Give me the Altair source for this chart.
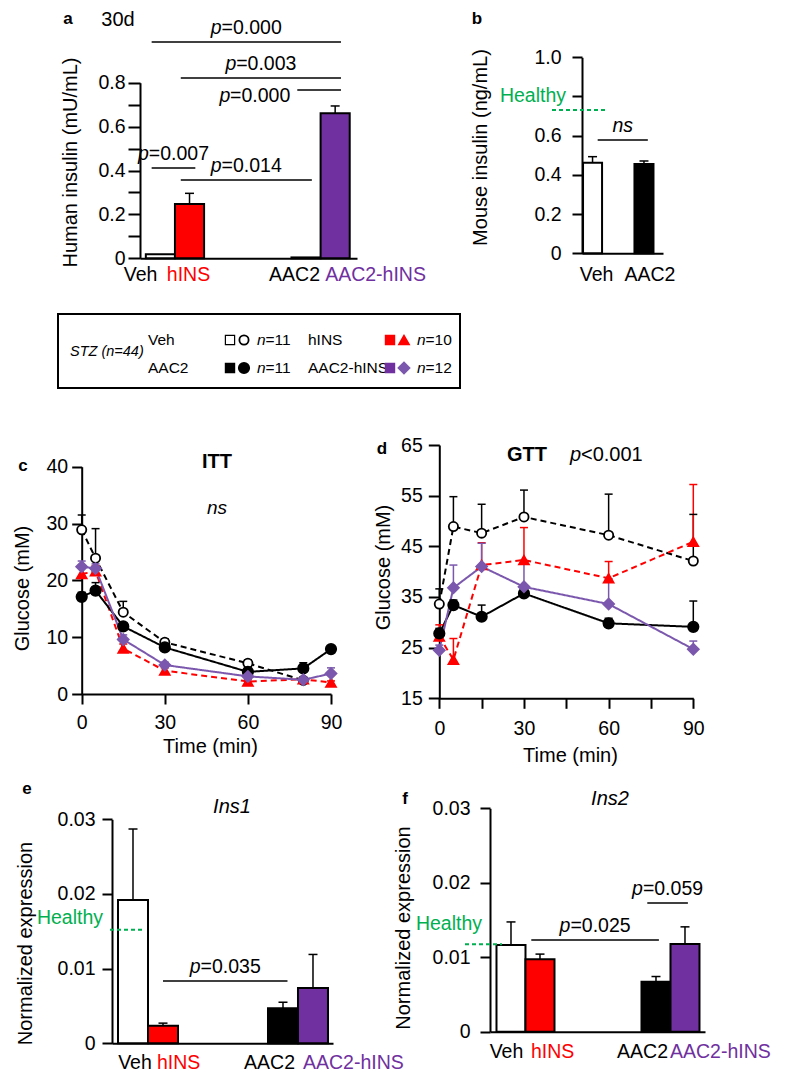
import altair as alt
import pandas as pd

M = 8
W, H = 772, 1071
FONT = "Liberation Sans"
FS = 19.5
GREEN = "#00b050"
RED = "#ff0000"
PURPLE = "#7030a0"
PURPLE_L = "#7b58ad"

GROUPS = ["Veh", "hINS", "AAC2", "AAC2-hINS"]
BAR_FILL = ["#ffffff", RED, "#000000", PURPLE]
LABEL_COLOR = ["#000000", RED, "#000000", PURPLE]
LINE_COLOR = ["#000000", RED, "#000000", PURPLE_L]
POINT_FILL = ["#ffffff", RED, "#000000", PURPLE_L]
POINT_SHAPE = ["circle", "triangle-up", "circle", "diamond"]
POINT_SIZE = [85, 120, 110, 90]
LINE_DASH = [[6, 4], [6, 4], [1, 0], [1, 0]]
LINE_WIDTH = [2, 2, 2, 1.6]

# ---- panel a : human insulin ----
A_VALUES = [0.018, 0.247, 0.004, 0.661]
A_SEM = [0.0, 0.049, 0.0, 0.033]
A_SIG_LABEL = ["p=0.000", "p=0.003", "p=0.000", "p=0.007", "p=0.014"]
A_SIG_FROM = ["Veh", "hINS", "AAC2", "Veh", "hINS"]
A_SIG_TO = ["AAC2-hINS", "AAC2-hINS", "AAC2-hINS", "hINS", "AAC2"]
A_SIG_LEVEL = [0.985, 0.821, 0.767, 0.411, 0.357]
A_Y_TICKS = [0, 0.1, 0.2, 0.3, 0.4, 0.5, 0.6, 0.7, 0.8]

# ---- panel b : mouse insulin ----
B_GROUPS = ["Veh", "AAC2"]
B_VALUES = [0.462, 0.456]
B_SEM = [0.031, 0.015]
B_HEALTHY = 0.731
B_SIG_LABEL = ["ns"]
B_SIG_FROM = ["Veh"]
B_SIG_TO = ["AAC2"]
B_SIG_LEVEL = [0.578]
B_Y_TICKS = [0, 0.2, 0.4, 0.6, 0.8, 1.0]

# ---- legend ----
LEG_N = [11, 10, 11, 12]

# ---- panel c : ITT ----
ITT_TIME = [0, 5, 15, 30, 60, 80, 90]
ITT_VEH = [28.9, 23.9, 14.4, 9.1, 5.4, 2.4, None]
ITT_VEH_SEM = [2.6, 5.2, 1.9, 0.6, 0.6, 0.5, None]
ITT_HINS = [21.1, 21.6, 8.0, 4.1, 2.2, 2.6, 2.0]
ITT_HINS_SEM = [1.5, 1.0, 0.8, 0.5, 0.3, 0.3, 0.3]
ITT_AAC2 = [17.1, 18.2, 11.9, 8.2, 3.9, 4.5, 7.9]
ITT_AAC2_SEM = [0.8, 1.4, 0.6, 0.5, 0.4, 1.0, 0.5]
ITT_AH = [22.4, 22.1, 9.6, 5.1, 3.1, 2.5, 3.6]
ITT_AH_SEM = [1.0, 0.8, 0.8, 0.5, 0.4, 0.3, 1.0]

# ---- panel d : GTT ----
GTT_TIME = [0, 5, 15, 30, 60, 90]
GTT_VEH = [33.6, 48.9, 47.6, 50.8, 47.2, 42.1]
GTT_VEH_SEM = [3.0, 5.9, 5.7, 5.3, 8.1, 9.2]
GTT_HINS = [27.2, 22.6, 41.3, 42.3, 38.7, 45.9]
GTT_HINS_SEM = [2.3, 4.2, 4.4, 6.4, 3.3, 11.3]
GTT_AAC2 = [27.8, 33.4, 31.1, 35.7, 29.8, 29.1]
GTT_AAC2_SEM = [1.0, 1.0, 2.3, 1.0, 1.0, 5.1]
GTT_AH = [24.5, 36.8, 41.0, 37.0, 33.6, 24.7]
GTT_AH_SEM = [1.0, 4.5, 4.6, 5.0, 5.0, 1.6]

# ---- panel e : Ins1 ----
E_VALUES = [0.0192, 0.00236, 0.0047, 0.0074]
E_SEM = [0.0095, 0.00034, 0.0008, 0.0045]
E_HEALTHY = 0.0152
E_SIG_LABEL = ["p=0.035"]
E_SIG_FROM = ["hINS"]
E_SIG_TO = ["AAC2"]
E_SIG_LEVEL = [0.00835]

# ---- panel f : Ins2 ----
F_VALUES = [0.01164, 0.00972, 0.00671, 0.01178]
F_SEM = [0.0031, 0.0007, 0.0007, 0.0023]
F_HEALTHY = 0.01173
F_SIG_LABEL = ["p=0.025", "p=0.059"]
F_SIG_FROM = ["hINS", "AAC2"]
F_SIG_TO = ["AAC2", "AAC2-hINS"]
F_SIG_LEVEL = [0.0123, 0.01727]
EF_Y_TICKS = [0, 0.01, 0.02, 0.03]

ONE = pd.DataFrame({"k": [0]})


def px(v):
    return v - M


def lin(domain, p0, p1):
    return alt.Scale(domain=domain, range=[px(p0), px(p1)], nice=False, zero=False)


def gscale(rng):
    return alt.Scale(domain=GROUPS, range=rng)


def bar_panel(groups, values, sems, gap, half_width, xdom, xpix, ydom, ypix,
              yvals, yexpr, ytitle, ytitle_c, ytick, ypad,
              sig, sig_pad, left_sig, label_spec, label_dy, healthy=None):
    n = len(groups)
    slots = [i + (gap if i >= n // 2 else 0) for i in range(n)]
    df = pd.DataFrame({
        "group": groups, "value": values, "sem": sems, "slot": slots,
        "x0": [s - half_width for s in slots], "x1": [s + half_width for s in slots],
        "top": [v + e for v, e in zip(values, sems)], "base": [0.0] * n})
    ax_x, ax_y = xpix[0], ypix[0]
    yax = alt.Axis(orient="left", offset=M - ax_x, values=yvals, labelExpr=yexpr,
                   tickSize=ytick, labelPadding=ypad, title=ytitle,
                   titleX=ytitle_c[0] - ax_x, titleY=px(ytitle_c[1]),
                   titleAngle=270, titleAlign="center", titleBaseline="middle")
    xax = alt.Axis(orient="bottom", offset=px(ax_y) - H, labels=False, ticks=False,
                   title=None, domain=True)

    def X(f):
        return alt.X(f"{f}:Q", scale=lin(xdom, *xpix), axis=None)

    def Y(f):
        return alt.Y(f"{f}:Q", scale=lin(ydom, *ypix), axis=None)

    base = alt.Chart(df)
    layers = [
        base.mark_bar(stroke="black", strokeWidth=2).encode(
            x=alt.X("x0:Q", scale=lin(xdom, *xpix), axis=xax), x2=alt.X2("x1"),
            y=alt.Y("value:Q", scale=lin(ydom, *ypix), axis=yax), y2=alt.Y2("base"),
            fill=alt.Fill("group:N", scale=gscale(BAR_FILL), legend=None)),
    ]
    edf = df[df["sem"] > 0]
    layers += [
        alt.Chart(edf).mark_rule(color="black", strokeWidth=1.5).encode(
            x=X("slot"), y=Y("value"), y2=alt.Y2("top")),
        alt.Chart(edf).mark_tick(color="black", orient="horizontal", size=9,
                                 thickness=1.5, opacity=1).encode(x=X("slot"), y=Y("top")),
    ]
    labels, froms, tos, levels = sig
    pos = dict(zip(groups, slots))
    s1 = [pos[f] + sig_pad[0] for f in froms]
    s2 = [pos[t] + sig_pad[1] for t in tos]
    sdf = pd.DataFrame({
        "x1": s1, "x2": s2, "xm": [(a + b) / 2 for a, b in zip(s1, s2)], "level": levels,
        "rest": [l[1:] if l.startswith("p") else l for l in labels],
        "isp": [l.startswith("p") for l in labels],
        "left": [i in left_sig for i in range(len(labels))]})
    sb = alt.Chart(sdf)
    txt = dict(font=FONT, fontSize=FS, baseline="alphabetic", color="black")
    layers += [
        sb.mark_rule(color="black", strokeWidth=1.5).encode(x=X("x1"), x2=alt.X2("x2"), y=Y("level")),
        sb.transform_filter("datum.isp && !datum.left").mark_text(
            text="p", align="left", dx=-35.5, dy=-8, fontStyle="italic", **txt).encode(x=X("xm"), y=Y("level")),
        sb.transform_filter("datum.isp && !datum.left").mark_text(
            align="left", dx=-24.7, dy=-8, **txt).encode(x=X("xm"), y=Y("level"), text="rest:N"),
        sb.transform_filter("!datum.isp").mark_text(
            align="center", dy=-8, fontStyle="italic", **txt).encode(x=X("xm"), y=Y("level"), text="rest:N"),
        sb.transform_filter("datum.left").mark_text(
            text="p", align="right", dx=-67, dy=12, fontStyle="italic", **txt).encode(x=X("x1"), y=Y("level")),
        sb.transform_filter("datum.left").mark_text(
            align="right", dx=-7, dy=12, **txt).encode(x=X("x1"), y=Y("level"), text="rest:N"),
    ]
    if healthy is not None:
        level, tx, lx0, lx1, tdy = healthy
        hdf = pd.DataFrame({"level": [level]})
        layers += [
            alt.Chart(hdf).mark_rule(color=GREEN, strokeWidth=2, strokeDash=[4, 3]).encode(
                x=alt.value(px(lx0)), x2=alt.value(px(lx1)), y=Y("level")),
            alt.Chart(hdf).mark_text(text="Healthy", align="right", baseline="middle", dy=tdy,
                                     color=GREEN, font=FONT, fontSize=FS).encode(
                x=alt.value(px(tx)), y=Y("level")),
        ]
    for g, (align, dx) in zip(groups, label_spec):
        layers.append(base.transform_filter(alt.datum.group == g).mark_text(
            align=align, dx=dx, dy=label_dy, baseline="middle", font=FONT, fontSize=FS).encode(
            x=X("slot"), y=Y("base"), text="group:N",
            color=alt.Color("group:N", scale=gscale(LABEL_COLOR), legend=None)))
    return layers


def ts_panel(times, series, sems, xpix, ydom, ypix, xvals, xexpr, yvals,
             ytitle_c, xtitle_c, ytick, ypad, xpad):
    rows = []
    for g, vals, errs in zip(GROUPS, series, sems):
        for t, v, e in zip(times, vals, errs):
            if v is None:
                continue
            rows.append({"group": g, "time": t, "value": v, "top": v + e})
    df = pd.DataFrame(rows)
    ax_x, ax_y = xpix[0], ypix[0]
    xkw = dict(orient="bottom", offset=px(ax_y) - H, values=xvals, tickSize=10,
               labelPadding=xpad, title="Time (min)", titleX=px(xtitle_c[0]),
               titleY=xtitle_c[1] - ax_y, titleAlign="center", titleBaseline="middle")
    if xexpr:
        xkw["labelExpr"] = xexpr
    xax = alt.Axis(**xkw)
    yax = alt.Axis(orient="left", offset=M - ax_x, values=yvals, tickSize=ytick,
                   labelPadding=ypad, title="Glucose (mM)",
                   titleX=ytitle_c[0] - ax_x, titleY=px(ytitle_c[1]),
                   titleAngle=270, titleAlign="center", titleBaseline="middle")

    def X(f):
        return alt.X(f"{f}:Q", scale=lin([0, 90], *xpix), axis=None)

    def Y(f):
        return alt.Y(f"{f}:Q", scale=lin(ydom, *ypix), axis=None)

    def stroke():
        return alt.Stroke("group:N", scale=gscale(LINE_COLOR), legend=None)

    base = alt.Chart(df)
    line = base.mark_line().encode(
        x=alt.X("time:Q", scale=lin([0, 90], *xpix), axis=xax),
        y=alt.Y("value:Q", scale=lin(ydom, *ypix), axis=yax),
        stroke=stroke(),
        strokeDash=alt.StrokeDash("group:N", scale=gscale(LINE_DASH), legend=None),
        strokeWidth=alt.StrokeWidth("group:N", scale=gscale(LINE_WIDTH), legend=None))
    err = base.mark_rule(strokeWidth=1.5).encode(
        x=X("time"), y=Y("value"), y2=alt.Y2("top"), stroke=stroke())
    cap = base.mark_tick(orient="horizontal", size=8, thickness=1.5, opacity=1).encode(
        x=X("time"), y=Y("top"),
        color=alt.Color("group:N", scale=gscale(LINE_COLOR), legend=None))
    pts = base.mark_point(filled=True, opacity=1, strokeWidth=1.8).encode(
        x=X("time"), y=Y("value"), stroke=stroke(),
        shape=alt.Shape("group:N", scale=gscale(POINT_SHAPE), legend=None),
        fill=alt.Fill("group:N", scale=gscale(POINT_FILL), legend=None),
        size=alt.Size("group:N", scale=gscale(POINT_SIZE), legend=None))
    return [line, err, cap, pts]


def legend_panel():
    ldf = pd.DataFrame({"group": GROUPS, "nlab": [f"={n}" for n in LEG_N],
                        "col": [i % 2 for i in range(len(GROUPS))],
                        "row": [i // 2 for i in range(len(GROUPS))]})

    def X():
        return alt.X("col:Q", scale=lin([0, 1], 148, 308), axis=None)

    def Y():
        return alt.Y("row:Q", scale=lin([0, 1], 340, 368), axis=None)

    base = alt.Chart(ldf)
    txt = dict(font=FONT, fontSize=15.5, baseline="middle", align="left", color="black")
    return [
        alt.Chart(ONE).mark_rect(fillOpacity=0, stroke="black", strokeWidth=2).encode(
            x=alt.value(px(58)), x2=alt.value(px(460)), y=alt.value(px(314)), y2=alt.value(px(388))),
        alt.Chart(ONE).mark_text(text="STZ (n=44)", fontStyle="italic", font=FONT, fontSize=14.5,
                                 baseline="middle", align="left", color="black").encode(
            x=alt.value(px(70)), y=alt.value(px(352))),
        base.mark_text(**txt).encode(x=X(), y=Y(), text="group:N"),
        base.mark_point(shape="square", filled=True, size=85, xOffset=82, strokeWidth=1.2,
                        opacity=1).encode(
            x=X(), y=Y(), fill=alt.Fill("group:N", scale=gscale(BAR_FILL), legend=None),
            stroke=alt.Stroke("group:N", scale=gscale(LABEL_COLOR), legend=None)),
        base.mark_point(filled=True, xOffset=96, strokeWidth=1.8, opacity=1).encode(
            x=X(), y=Y(),
            shape=alt.Shape("group:N", scale=gscale(POINT_SHAPE), legend=None),
            fill=alt.Fill("group:N", scale=gscale(POINT_FILL), legend=None),
            stroke=alt.Stroke("group:N", scale=gscale(LINE_COLOR), legend=None),
            size=alt.Size("group:N", scale=gscale(POINT_SIZE), legend=None)),
        base.mark_text(text="n", fontStyle="italic", dx=109, **txt).encode(x=X(), y=Y()),
        base.mark_text(dx=117.5, **txt).encode(x=X(), y=Y(), text="nlab:N"),
    ]


def label(text, x, y, size=20, weight="normal", style="normal", align="center"):
    return alt.Chart(ONE).mark_text(
        text=text, fontSize=size, fontWeight=weight, fontStyle=style, align=align,
        baseline="middle", font=FONT, color="black").encode(
        x=alt.value(px(x)), y=alt.value(px(y)))


panel_a = bar_panel(
    GROUPS, A_VALUES, A_SEM, 3, 0.5, [-0.7, 6.75], (140, 357), [0, 0.8], (258.3, 82.7),
    A_Y_TICKS,
    "round(datum.value*10) % 2 == 0 ? (datum.value == 0 ? '0' : format(datum.value, '.1f')) : ''",
    "Human insulin (mU/mL)", (70, 162), 12, 3,
    (A_SIG_LABEL, A_SIG_FROM, A_SIG_TO, A_SIG_LEVEL), (-0.3, 0.2), {2},
    [("right", -3), ("center", -1), ("right", 14), ("left", -10)], 17)

panel_b = bar_panel(
    B_GROUPS, B_VALUES, B_SEM, 1, 0.37, [-0.41, 2.74], (582, 663), [0, 1], (253.3, 57.3),
    B_Y_TICKS,
    "datum.value == 0 ? '0' : (abs(datum.value - 0.8) < 0.01 ? '' : format(datum.value, '.1f'))",
    "Mouse insulin (ng/mL)", (480, 147), 10, 11,
    (B_SIG_LABEL, B_SIG_FROM, B_SIG_TO, B_SIG_LEVEL), (0.2, 0.15), set(),
    [("center", 4), ("center", 6)], 22,
    healthy=(B_HEALTHY, 566, 552, 606, -14))

panel_e = bar_panel(
    GROUPS, E_VALUES, E_SEM, 3, 0.5, [-0.7, 6.667], (112, 333), [0, 0.03], (1043.3, 819.3),
    EF_Y_TICKS, "datum.value == 0 ? '0' : format(datum.value, '.2f')",
    "Normalized expression", (25, 943), 10, 7,
    (E_SIG_LABEL, E_SIG_FROM, E_SIG_TO, E_SIG_LEVEL), (0.0, 0.15), set(),
    [("center", 2), ("left", -6), ("right", 12), ("left", -10)], 20,
    healthy=(E_HEALTHY, 103, 110, 143, -12))

panel_f = bar_panel(
    GROUPS, F_VALUES, F_SEM, 3, 0.5, [-0.724, 6.69], (490, 705), [0, 0.03], (1031.7, 808.3),
    EF_Y_TICKS, "datum.value == 0 ? '0' : format(datum.value, '.2f')",
    "Normalized expression", (403.5, 927.5), 10, 10,
    (F_SIG_LABEL, F_SIG_FROM, F_SIG_TO, F_SIG_LEVEL), (-0.3, 0.1), set(),
    [("center", -4.5), ("left", -9), ("right", 12), ("left", -15)], 20,
    healthy=(F_HEALTHY, 482, 465, 502, -20))

panel_c = ts_panel(
    ITT_TIME, [ITT_VEH, ITT_HINS, ITT_AAC2, ITT_AH],
    [ITT_VEH_SEM, ITT_HINS_SEM, ITT_AAC2_SEM, ITT_AH_SEM],
    (81.7, 331), [0, 40], (694, 466.7), [0, 30, 60, 90], None, [0, 10, 20, 30, 40],
    (22.5, 588), (210, 746.7), 10, 4, 9)

panel_d = ts_panel(
    GTT_TIME, [GTT_VEH, GTT_HINS, GTT_AAC2, GTT_AH],
    [GTT_VEH_SEM, GTT_HINS_SEM, GTT_AAC2_SEM, GTT_AH_SEM],
    (439.3, 693.3), [15, 65], (698.3, 445), [0, 15, 30, 45, 60, 75, 90],
    "datum.value % 30 == 0 ? datum.label : ''", [15, 25, 35, 45, 55, 65],
    (383, 567), (570, 755), 11, 6, 11)

titles = [
    label("a", 68, 18.5, size=17, weight="bold"),
    label("30d", 118, 20),
    label("b", 477, 18.5, size=17, weight="bold"),
    label("c", 23, 466, size=17, weight="bold"),
    label("ITT", 217, 462, weight="bold"),
    label("ns", 217, 508, size=19, style="italic"),
    label("d", 382, 449, size=17, weight="bold"),
    label("GTT", 527, 455, weight="bold"),
    label("p", 570, 455, style="italic", align="left"),
    label("<0.001", 581, 455, align="left"),
    label("e", 27, 789, size=17, weight="bold"),
    label("Ins1", 232, 807, style="italic"),
    label("f", 405, 799, size=17, weight="bold"),
    label("Ins2", 610, 799, style="italic"),
]

all_layers = panel_a + panel_b + legend_panel() + panel_c + panel_d + panel_e + panel_f + titles

chart = alt.layer(*all_layers).resolve_scale(
    x="independent", y="independent", fill="independent", stroke="independent",
    color="independent", shape="independent", size="independent",
    strokeDash="independent", strokeWidth="independent"
).properties(
    width=W, height=H, autosize=alt.AutoSizeParams(type="none"), padding=0
).configure_axis(
    labelFont=FONT, titleFont=FONT, labelFontSize=FS, titleFontSize=20,
    titleFontWeight="normal", labelColor="black", titleColor="black",
    domainColor="black", tickColor="black", domainWidth=2, tickWidth=2,
    grid=False, labelOverlap=False, labelFlush=False
).configure_view(strokeWidth=0)

chart.save("out.html", embed_options={"renderer": "svg", "actions": False})
